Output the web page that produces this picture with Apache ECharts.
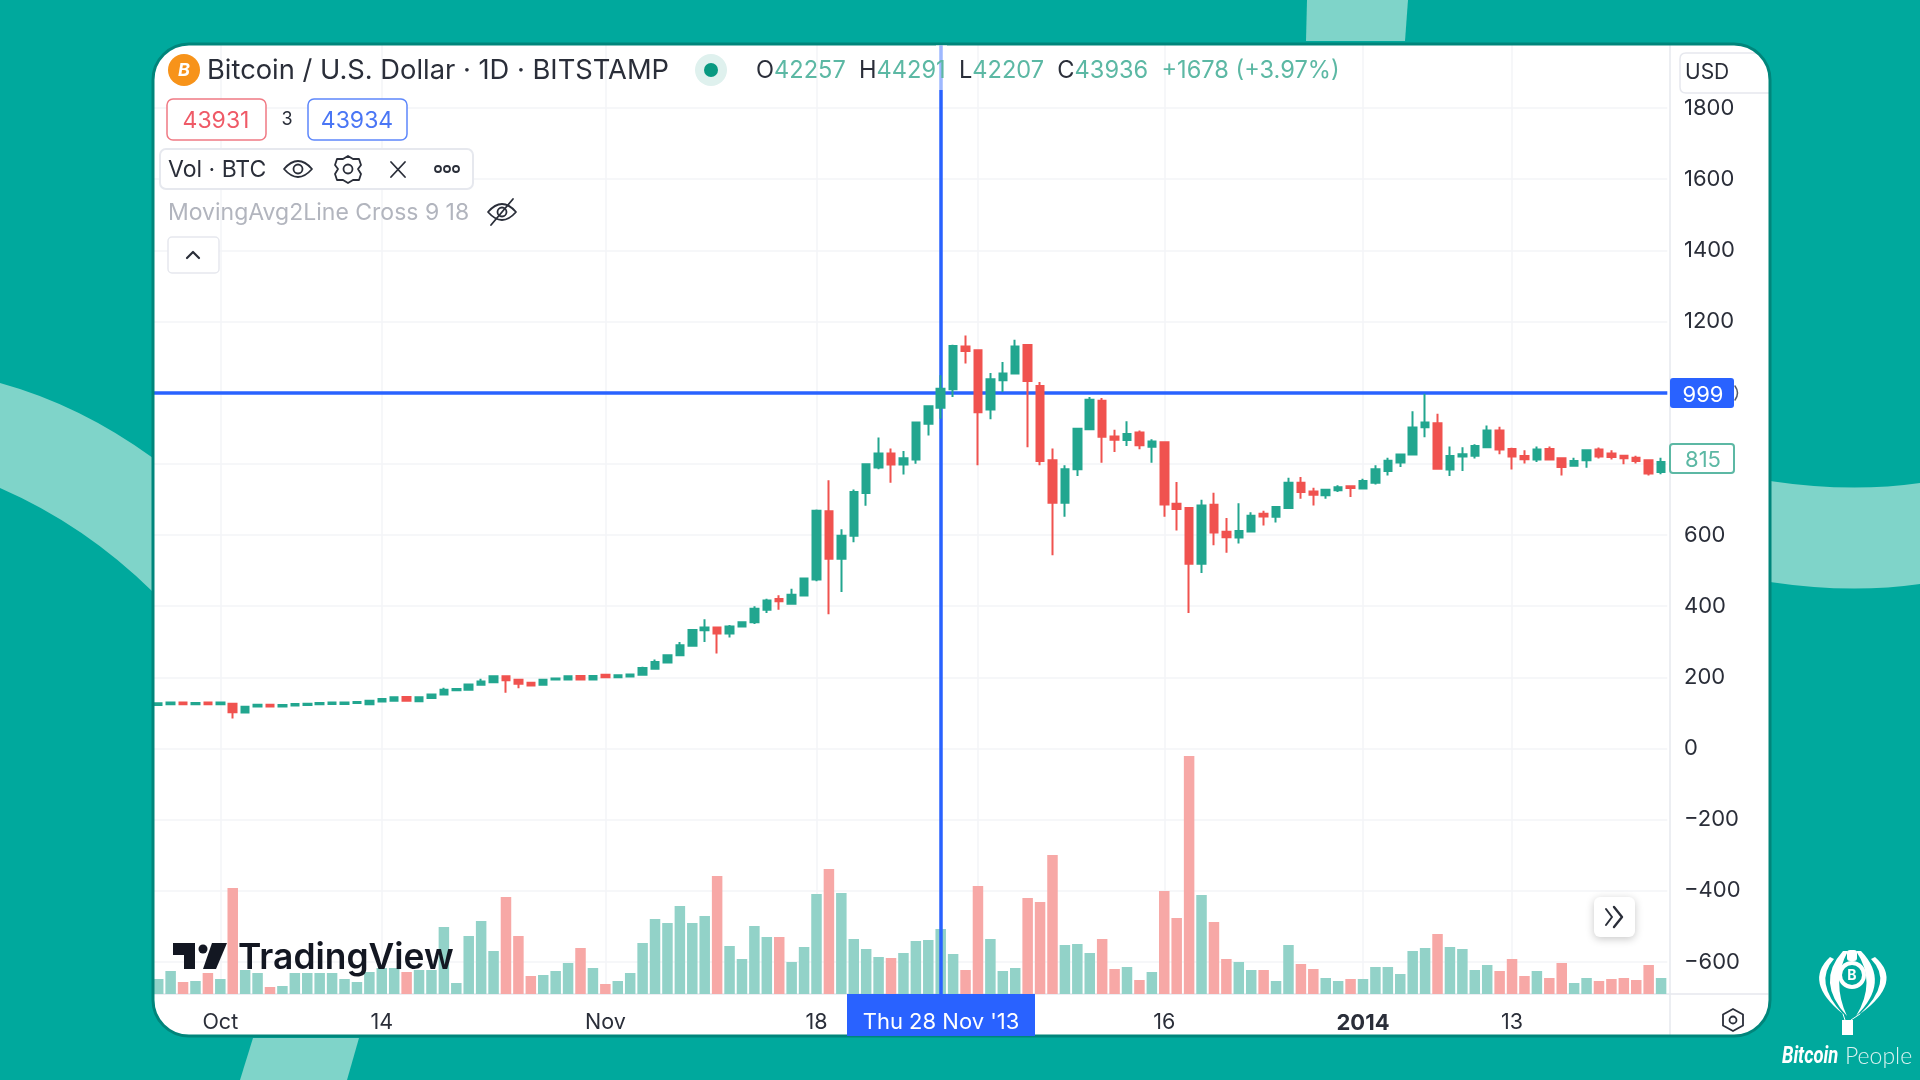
<!DOCTYPE html>
<html>
<head>
<meta charset="utf-8">
<title>Bitcoin / U.S. Dollar</title>
<script src="https://cdn.jsdelivr.net/npm/echarts@6/dist/echarts.min.js"></script>
<style>
    html, body { margin: 0; padding: 0; background: #00a99d; }
    #main { width: 1920px; height: 1080px; }
</style>
</head>
<body>
<div id="main"></div>
<script>
// tick labels
var tickDates = ['2013-10-01', '2013-10-14', '2013-11-01', '2013-11-18', '2013-12-01', '2013-12-16', '2014-01-01', '2014-01-13'];
var tickNames = ['Oct', '14', 'Nov', '18', 'Dec', '16', '2014', '13'];
var priceTicks = [-600, -400, -200, 0, 200, 400, 600, 800, 1000, 1200, 1400, 1600, 1800];

// one value per day, 26 Sep 2013 to 25 Jan 2014
var opens = [122, 124, 129, 124, 129, 124, 126, 101, 118, 123, 118, 121, 122, 124, 125, 125, 128, 124, 132, 134, 145, 133, 142, 152, 164, 165, 179, 186, 203, 193, 185, 179, 194, 194, 204, 194, 207, 200, 202, 207, 224, 242, 262, 289, 332, 340, 323, 343, 355, 390, 420, 407, 430, 475, 667, 533, 598, 718, 790, 829, 798, 812, 913, 958, 1010, 1130, 1119, 953, 1035, 1054, 1134, 1019, 810, 691, 785, 897, 977, 877, 867, 888, 848, 861, 688, 676, 519, 685, 609, 593, 610, 660, 651, 676, 747, 722, 712, 726, 737, 731, 747, 780, 804, 826, 903, 914, 784, 821, 823, 847, 894, 842, 822, 812, 842, 816, 795, 810, 840, 829, 823, 817, 810, 777];
var closes = [127, 129, 124, 128, 124, 129, 102, 117, 123, 118, 122, 125, 126, 128, 129, 129, 131, 134, 139, 144, 134, 144, 152, 165, 167, 180, 188, 203, 192, 182, 177, 193, 197, 203, 194, 204, 200, 206, 208, 226, 243, 262, 290, 333, 340, 323, 343, 355, 393, 416, 414, 432, 478, 668, 533, 598, 721, 799, 829, 798, 816, 916, 962, 1011, 1131, 1117, 945, 1038, 1054, 1130, 1033, 808, 691, 785, 899, 980, 876, 868, 884, 852, 863, 686, 673, 519, 683, 607, 594, 611, 654, 652, 679, 747, 721, 713, 727, 734, 732, 752, 785, 809, 826, 902, 916, 786, 822, 827, 850, 894, 840, 821, 813, 840, 812, 791, 808, 838, 821, 819, 816, 808, 773, 805];
var lows = [121, 123, 123, 123, 123, 123, 84, 100, 117, 117, 117, 120, 121, 123, 124, 124, 127, 123, 130, 133, 133, 132, 141, 151, 163, 164, 178, 185, 157, 169, 176, 178, 193, 193, 193, 193, 199, 199, 201, 206, 223, 241, 261, 288, 299, 267, 312, 342, 350, 381, 390, 405, 428, 470, 377, 440, 580, 682, 785, 747, 770, 800, 880, 927, 988, 1082, 796, 925, 1002, 1052, 847, 796, 543, 651, 766, 895, 803, 833, 850, 841, 803, 651, 613, 381, 493, 571, 550, 576, 610, 627, 635, 675, 702, 683, 702, 721, 707, 730, 742, 767, 791, 826, 875, 785, 766, 780, 815, 845, 827, 784, 801, 805, 810, 767, 794, 789, 815, 812, 799, 801, 767, 771];
var highs = [128, 130, 130, 129, 130, 130, 127, 119, 124, 124, 123, 126, 127, 129, 130, 130, 132, 135, 141, 146, 146, 145, 153, 171, 168, 181, 196, 204, 205, 194, 186, 194, 198, 204, 205, 205, 208, 207, 209, 230, 250, 263, 299, 334, 363, 342, 347, 356, 400, 421, 431, 449, 480, 672, 754, 616, 728, 800, 874, 843, 836, 918, 965, 1049, 1135, 1161, 1121, 1055, 1086, 1149, 1136, 1030, 843, 796, 900, 988, 985, 896, 920, 894, 869, 862, 749, 678, 699, 719, 648, 689, 664, 668, 680, 761, 763, 733, 730, 740, 738, 758, 796, 817, 827, 948, 997, 941, 849, 847, 855, 908, 904, 845, 838, 849, 849, 818, 817, 840, 846, 838, 825, 823, 811, 817];
var volumes = [15, 23, 12, 13, 21, 15, 106, 24, 21, 7, 8, 21, 21, 21, 21, 15, 12, 22, 26, 26, 22, 24, 24, 67, 11, 58, 73, 43, 97, 58, 18, 19, 23, 31, 46, 26, 10, 13, 21, 51, 75, 71, 88, 71, 78, 118, 48, 35, 68, 57, 57, 32, 47, 100, 125, 101, 55, 45, 37, 36, 41, 53, 54, 65, 40, 24, 108, 55, 23, 26, 96, 92, 139, 49, 50, 41, 55, 25, 27, 14, 22, 103, 76, 238, 99, 72, 35, 32, 24, 24, 13, 49, 30, 25, 16, 13, 15, 15, 27, 27, 20, 43, 46, 60, 47, 45, 24, 29, 23, 35, 18, 23, 16, 31, 11, 16, 13, 15, 16, 14, 29, 16];

var crossDate = '2013-11-28';
var crossPrice = 999;

var GREEN = '#22a68f';
var RED = '#f0524f';
var GREEN_VOL = '#92d2c8';
var RED_VOL = '#f7a8a6';
var BLUE = '#2962ff';
var TEXT = '#2a2e39';
var LINE = '#e6e8ee';
var GRID = '#f3f4f7';
var FONT = 'Inter';

var days = [];
var d = Date.UTC(2013, 8, 26);
for (var n = 0; n < opens.length; n++) {
    days.push(new Date(d + n * 86400000).toISOString().slice(0, 10));
}

var candleData = [];
var volumeData = [];
for (var i = 0; i < days.length; i++) {
    candleData.push([opens[i], closes[i], lows[i], highs[i]]);
    volumeData.push({
        value: volumes[i],
        itemStyle: {color: closes[i] >= opens[i] ? GREEN_VOL : RED_VOL}
    });
}

function isTick(index, value) {
    return tickDates.indexOf(value) >= 0;
}

// helpers for the page furniture around the chart
function text(x, y, str, size, color, extra) {
    var style = {x: x, y: y, text: str, fontSize: size, fill: color, fontFamily: FONT, verticalAlign: 'middle', align: 'left'};
    for (var k in (extra || {})) style[k] = extra[k];
    return {type: 'text', z: 120, style: style, silent: true};
}
function box(x, y, w, h, r, fill, stroke, lineWidth, z) {
    return {
        type: 'rect', z: z === undefined ? 110 : z, silent: true,
        shape: {x: x, y: y, width: w, height: h, r: r},
        style: {fill: fill, stroke: stroke, lineWidth: lineWidth || 0}
    };
}
function circle(x, y, r, fill, stroke, lineWidth, z) {
    return {
        type: 'circle', z: z === undefined ? 120 : z, silent: true,
        shape: {cx: x, cy: y, r: r},
        style: {fill: fill || 'none', stroke: stroke || 'none', lineWidth: lineWidth || 0}
    };
}
function line(x1, y1, x2, y2, color, width, z) {
    return {
        type: 'line', z: z === undefined ? 120 : z, silent: true,
        shape: {x1: x1, y1: y1, x2: x2, y2: y2},
        style: {stroke: color, lineWidth: width, lineCap: 'round'}
    };
}
// svg path drawn in page coordinates, each one needs its own registered shape
var shapeCount = 0;
function raw(d, fill, stroke, lineWidth, z) {
    var name = 'furniture' + (shapeCount++);
    echarts.graphic.registerShape(name, echarts.graphic.extendPath(d, {}));
    return {
        type: name, z: z === undefined ? 120 : z, silent: true,
        style: {fill: fill || 'none', stroke: stroke || 'none', lineWidth: lineWidth || 0, lineCap: 'round', lineJoin: 'round'}
    };
}

var LIGHT = '#7fd4c9';
var furniture = [
    // background shapes
    raw('M0 383 Q80 405 153 458 L153 592 Q85 525 0 488 Z', LIGHT, null, 0, -30),
    raw('M1770 481 Q1850 493 1920 483 L1920 584 Q1850 594 1770 582 Z', LIGHT, null, 0, -30),
    raw('M1307 0 L1408 0 L1405 41 L1306 41 Z', LIGHT, null, 0, -30),
    raw('M253 1038 L359 1038 L347 1080 L240 1080 Z', LIGHT, null, 0, -30),
    // card, border goes on top so grid lines stop at it
    box(153, 44, 1617, 992, 36, '#ffffff', null, 0, -20),
    box(153, 44, 1617, 992, 36, 'none', '#00857b', 3, 100),
    // pane frame
    line(153, 994, 1768, 994, LINE, 1.5, 1),
    line(1670, 45, 1670, 1035, LINE, 1.5, 1),
    raw('M1757 53 L1686 53 Q1680 53 1680 59 L1680 87 Q1680 93 1686 93 L1769 93', null, LINE, 1.5, 1),
    text(1685, 73, 'USD', 21, TEXT),

    // header
    box(936, 45, 11, 45, 0, 'rgba(255,255,255,0.55)', null, 0, 105),
    circle(184, 70, 16, '#f7931a'),
    text(184, 71, 'B', 18, '#ffffff', {align: 'center', fontWeight: 'bold', fontStyle: 'italic'}),
    text(207, 71, 'Bitcoin / U.S. Dollar · 1D · BITSTAMP', 27.3, TEXT),
    circle(711, 70, 16, '#dff1ee'),
    circle(711, 70, 7, '#089981'),
    {
        type: 'text', z: 120, silent: true,
        style: {
            x: 756, y: 71, verticalAlign: 'middle', fontFamily: FONT, fontSize: 23.6, fill: '#5cb8a4',
            text: '{l|O}42257  {l|H}44291  {l|L}42207  {l|C}43936  +1678 (+3.97%)',
            rich: {l: {fill: TEXT, fontFamily: FONT, fontSize: 23.6}}
        }
    },

    // order buttons
    box(167, 99, 99, 41, 6, '#ffffff', '#f07a84', 1.5),
    text(216, 121, '43931', 23, '#ef5a67', {align: 'center'}),
    text(287, 120, '3', 18, TEXT, {align: 'center'}),
    box(308, 99, 99, 41, 6, '#ffffff', '#5d87fb', 1.5),
    text(357, 121, '43934', 23, '#4a76f5', {align: 'center'}),

    // Vol legend
    box(160, 149, 313, 40, 6, '#ffffff', LINE, 2),
    text(168, 170, 'Vol · BTC', 23, TEXT),
    raw('M284 169 Q298 153 312 169 Q298 185 284 169 Z', null, TEXT, 1.8),
    circle(298, 169, 4.5, null, TEXT, 1.8),
    raw('M348 156 L353 159 L359 159 L361 165 L358 169 L361 174 L359 180 L353 180 L348 183 L343 180 L337 180 L335 174 L338 169 L335 165 L337 159 L343 159 Z', null, TEXT, 1.8),
    circle(348, 169, 4.5, null, TEXT, 1.8),
    line(391, 162, 405, 177, TEXT, 1.8),
    line(405, 162, 391, 177, TEXT, 1.8),
    circle(438, 169, 3, null, TEXT, 1.8),
    circle(447, 169, 3, null, TEXT, 1.8),
    circle(456, 169, 3, null, TEXT, 1.8),

    // hidden indicator
    text(168, 213, 'MovingAvg2Line Cross 9 18', 23, '#b2b5be'),
    raw('M488 212 Q502 196 516 212 Q502 228 488 212 Z', null, TEXT, 1.8),
    circle(502, 212, 4.5, null, TEXT, 1.8),
    line(491, 225, 513, 199, TEXT, 1.8),
    box(168, 237, 51, 36, 4, '#ffffff', LINE, 1.5),
    raw('M187 258 L193 252 L199 258', null, TEXT, 2.2),

    // watermark
    raw('M173 943 L195 943 L195 969 L184 969 L184 955 L173 955 Z', '#131722'),
    circle(203, 949, 4.5, '#131722'),
    raw('M212 943 L227 943 L216 969 L203 969 Z', '#131722'),
    text(238, 958, 'TradingView', 35.4, '#131722', {fontWeight: 600}),

    // scroll to latest button
    {
        type: 'rect', z: 110, silent: true,
        shape: {x: 1594, y: 897, width: 41, height: 40, r: 6},
        style: {fill: '#ffffff', shadowBlur: 8, shadowColor: 'rgba(0,0,0,0.22)', shadowOffsetY: 2}
    },
    raw('M1606 909 L1612 917 L1606 925', null, TEXT, 2),
    raw('M1614 907 L1622 917 L1614 927', null, TEXT, 2.4),

    // crosshair tags
    box(847, 994, 188, 42, 0, BLUE, null, 0),
    text(941, 1022, "Thu 28 Nov '13", 22, '#ffffff', {align: 'center'}),
    box(1670, 378, 64, 30, 3, BLUE, null, 0),
    raw('M1735 386 Q1740 393 1735 400', null, '#555a66', 1.5),
    text(1703, 395, '999', 22, '#ffffff', {align: 'center'}),
    box(1670, 444, 64, 29, 3, '#ffffff', '#5cb8a4', 2),
    text(1703, 460, '815', 22, '#5cb8a4', {align: 'center'}),

    // settings hexagon
    raw('M1733 1009 L1743 1014.5 L1743 1025.5 L1733 1031 L1723 1025.5 L1723 1014.5 Z', null, TEXT, 1.8),
    circle(1733, 1020, 3.5, null, TEXT, 1.8),

    // balloon logo
    raw('M1830 957 Q1803 982 1843 1014 Q1813 982 1834 959 Z', '#ffffff'),
    raw('M1843 951 Q1815 982 1847 1016 Q1831 982 1848 951 Z', '#ffffff'),
    raw('M1875 957 Q1904 982 1860 1014 Q1894 982 1871 959 Z', '#ffffff'),
    raw('M1861 951 Q1891 982 1856 1016 Q1877 982 1856 951 Z', '#ffffff'),
    box(1847, 950, 10, 11, 3, '#ffffff', null, 0, 120),
    circle(1852, 975, 14, '#ffffff'),
    circle(1852, 975, 10, '#00a99d'),
    text(1852, 976, 'B', 14, '#ffffff', {align: 'center', fontWeight: 'bold'}),
    line(1843, 1014, 1845, 1020, '#ffffff', 1),
    line(1860, 1014, 1851, 1020, '#ffffff', 1),
    box(1842, 1020, 11, 15, 0, '#ffffff', null, 0, 120),
    {
        type: 'text', z: 120, silent: true, x: 1782, y: 1057, scaleX: 0.8,
        style: {x: 0, y: 0, text: 'Bitcoin', fontSize: 23, fill: '#ffffff', fontFamily: 'Roboto', fontWeight: 'bold', fontStyle: 'italic', verticalAlign: 'middle'}
    },
    text(1845, 1057, 'People', 23, 'rgba(255,255,255,0.85)', {fontFamily: 'Lato', fontWeight: 300})
];

var chart = echarts.init(document.getElementById('main'));
chart.setOption({
    animation: false,
    backgroundColor: '#00a99d',
    graphic: {elements: furniture},
    grid: {left: 152, right: 252.7, top: 44, bottom: 86},
    xAxis: {
        type: 'category',
        data: days,
        boundaryGap: true,
        axisLine: {show: false},
        axisTick: {show: false, alignWithLabel: true},
        splitLine: {show: true, interval: isTick, alignWithLabel: true, lineStyle: {color: GRID, width: 1.5}},
        axisLabel: {
            interval: isTick,
            margin: 18,
            fontFamily: FONT,
            fontSize: 21.5,
            color: TEXT,
            hideOverlap: false,
            formatter: function (value) {
                var name = tickNames[tickDates.indexOf(value)];
                return name === '2014' ? '{b|' + name + '}' : name;
            },
            rich: {b: {fontFamily: FONT, fontSize: 22, fontWeight: 'bold', color: TEXT}}
        }
    },
    yAxis: [{
        type: 'value',
        position: 'right',
        min: -690,
        max: 1980,
        axisLine: {show: false},
        axisTick: {show: false, customValues: priceTicks},
        splitLine: {show: true, lineStyle: {color: GRID, width: 1.5}},
        axisLabel: {
            customValues: priceTicks,
            margin: 16.7,
            padding: [5, 0, 0, 0],
            fontFamily: FONT,
            fontSize: 22,
            color: TEXT,
            formatter: function (value) {
                return String(value).replace('-', '\u2212');
            }
        }
    }, {
        type: 'value',
        show: false,
        min: 0,
        max: 950,
        splitLine: {show: false}
    }],
    series: [{
        name: 'Vol',
        type: 'bar',
        yAxisIndex: 1,
        barWidth: 10.5,
        z: 1,
        silent: true,
        data: volumeData
    }, {
        name: 'BTCUSD',
        type: 'candlestick',
        yAxisIndex: 0,
        barWidth: 8,
        z: 3,
        silent: true,
        itemStyle: {color: GREEN, color0: RED, borderColor: GREEN, borderColor0: RED, borderWidth: 2},
        data: candleData,
        markLine: {
            silent: true,
            symbol: 'none',
            animation: false,
            z: 2,
            label: {show: false},
            lineStyle: {color: BLUE, width: 3.5, type: 'solid'},
            data: [{xAxis: crossDate}, {yAxis: crossPrice}]
        }
    }]
});
</script>
</body>
</html>
